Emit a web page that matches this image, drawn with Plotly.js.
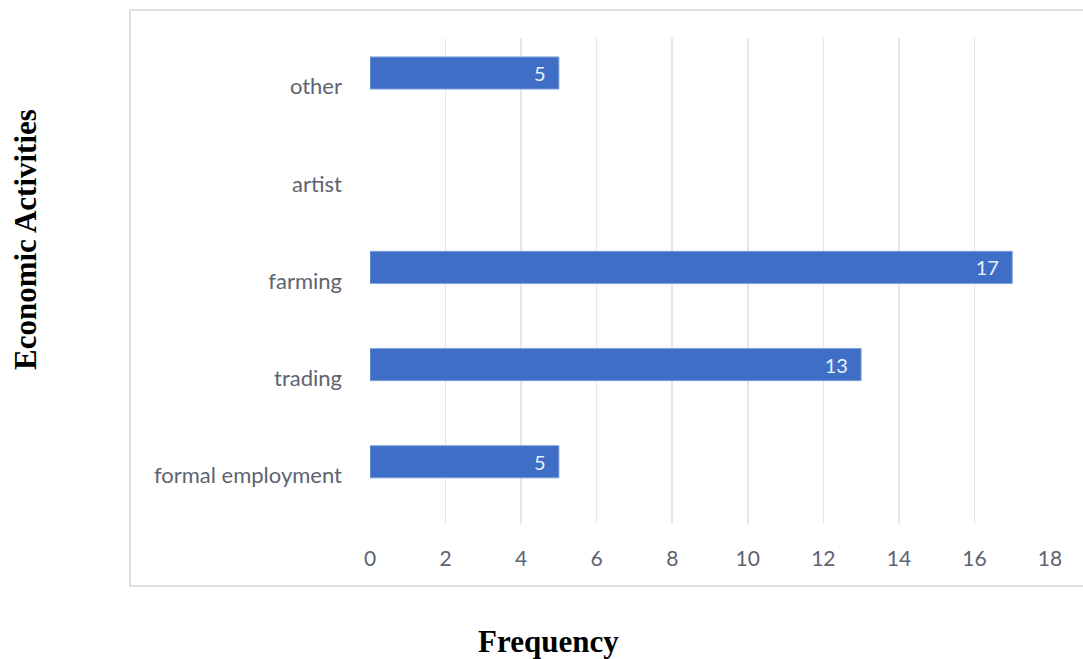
<!DOCTYPE html>
<html>
<head>
<meta charset="utf-8">
<script src="https://cdn.plot.ly/plotly-3.0.1.min.js"></script>
<style>
  html, body { margin: 0; padding: 0; background: #ffffff; }
  #chart { width: 1083px; height: 659px; }
</style>
</head>
<body>
<div id="chart"></div>
<script>
// Economic activities of respondents (bottom to top)
const activities = ['formal employment', 'trading', 'farming', 'artist', 'other'];
const frequency = [5, 13, 17, null, 5];
const xTicks = [0, 2, 4, 6, 8, 10, 12, 14, 16, 18];

const bars = {
  type: 'bar',
  orientation: 'h',
  y: activities,
  x: frequency,
  width: 0.33,
  offset: -0.025,
  marker: {
    color: '#3f6ec6',
    line: { color: '#7d9ed8', width: 1 }
  },
  texttemplate: '%{x}\u00a0\u00a0',
  textposition: 'inside',
  insidetextanchor: 'end',
  textfont: { family: 'Lato, "Open Sans", sans-serif', size: 20, color: '#e9eff9' },
  cliponaxis: false,
  hoverinfo: 'x+y'
};

const L = 370, R = 1050, T = 38, B = 524;
const W = 1083, H = 659;
const pw = R - L, ph = B - T;
const px = v => (v - L) / pw;
const py = v => (B - v) / ph;

const layout = {
  width: W,
  height: H,
  margin: { l: L, r: W - R, t: T, b: H - B, pad: 0 },
  paper_bgcolor: '#ffffff',
  plot_bgcolor: '#ffffff',
  showlegend: false,
  xaxis: {
    range: [0, 18],
    tickvals: xTicks,
    showgrid: true,
    gridcolor: '#e4e7ec',
    gridwidth: 1.5,
    zeroline: false,
    showline: false,
    ticks: '',
    ticklabelstandoff: 20,
    tickfont: { family: 'Lato, "Open Sans", sans-serif', size: 21, color: '#5d6370' },
    fixedrange: true
  },
  yaxis: {
    type: 'category',
    categoryorder: 'array',
    categoryarray: activities,
    showgrid: false,
    zeroline: false,
    showline: false,
    ticks: '',
    ticklabelstandoff: 27,
    tickfont: { family: 'Lato, "Open Sans", sans-serif', size: 22, color: '#5d6370' },
    fixedrange: true
  },
  shapes: [{
    type: 'rect',
    xref: 'paper', yref: 'paper',
    x0: px(130), x1: px(1095),
    y0: py(586), y1: py(10),
    line: { color: '#dde0e6', width: 2 },
    fillcolor: 'rgba(0,0,0,0)',
    layer: 'below'
  }],
  annotations: [
    {
      text: '<b>Frequency</b>',
      xref: 'paper', yref: 'paper',
      x: px(548), y: py(641),
      xanchor: 'center', yanchor: 'middle',
      showarrow: false,
      font: { family: '"Liberation Serif", "Times New Roman", serif', size: 31, color: '#000000' }
    },
    {
      text: '<b>Economic Activities</b>',
      xref: 'paper', yref: 'paper',
      x: px(25), y: py(240),
      xanchor: 'center', yanchor: 'middle',
      textangle: -90,
      showarrow: false,
      font: { family: '"Liberation Serif", "Times New Roman", serif', size: 31, color: '#000000' }
    }
  ]
};

Plotly.newPlot('chart', [bars], layout, { displayModeBar: false, staticPlot: true });
</script>
</body>
</html>
